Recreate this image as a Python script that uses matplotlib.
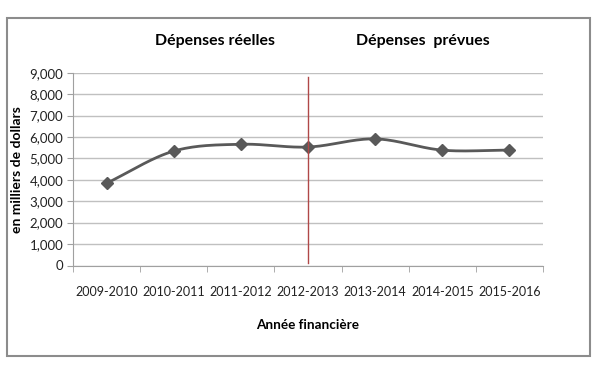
import numpy as np
import matplotlib.pyplot as plt
from matplotlib.patches import Rectangle

years = ['2009-2010', '2010-2011', '2011-2012', '2012-2013',
         '2013-2014', '2014-2015', '2015-2016']
depenses = [3840, 5340, 5660, 5530, 5910, 5385, 5390]
yticks = np.arange(0, 9001, 1000)
split_year = '2012-2013'
split_range = [100, 8800]

plt.rcParams['font.family'] = ['Lato', 'DejaVu Sans']

fig = plt.figure(figsize=(6, 3.66), dpi=100)
ax = fig.add_axes([73/600, 1-265.5/366, (543-73)/600, (265.5-72.7)/366])

x = np.arange(len(years))
y = np.array(depenses, dtype=float)

# courbe lissée type Excel (Catmull-Rom)
px = np.concatenate([[2*x[0]-x[1]], x, [2*x[-1]-x[-2]]]).astype(float)
py = np.concatenate([[2*y[0]-y[1]], y, [2*y[-1]-y[-2]]])
xs, ys = [], []
t = np.linspace(0, 1, 30)
for i in range(1, len(px)-2):
    for arr, out in ((px, xs), (py, ys)):
        p0, p1, p2, p3 = arr[i-1], arr[i], arr[i+1], arr[i+2]
        out.extend(0.5*((2*p1) + (-p0+p2)*t + (2*p0-5*p1+4*p2-p3)*t**2
                        + (-p0+3*p1-3*p2+p3)*t**3))
ax.plot(xs, ys, color='#595959', lw=2, zorder=3)
ax.plot(x, y, 'D', color='#595959', ms=6.5, zorder=4)

xi = years.index(split_year)
ax.plot([xi, xi], split_range, color='#b04848', lw=1, zorder=5)

ax.set_xlim(-0.5, len(years)-0.5)
ax.set_ylim(0, 9000)
ax.set_yticks(yticks)
ax.set_yticklabels([f'{v:,}' for v in yticks])
ax.set_xticks(x)
ax.set_xticklabels(years)
ax.set_xticks(np.arange(-0.5, len(years)), minor=True)
ax.tick_params(axis='x', which='major', length=0, pad=15, labelsize=9)
ax.tick_params(axis='x', which='minor', length=4, color='#a0a0a0')
ax.tick_params(axis='y', length=4, color='#a0a0a0', pad=3, labelsize=9.5)
ax.tick_params(labelcolor='#222222')
ax.grid(axis='y', color='#c0c0c0', lw=1)
ax.set_axisbelow(True)
for s in ['top', 'right']:
    ax.spines[s].set_visible(False)
for s in ['left', 'bottom']:
    ax.spines[s].set_color('#a0a0a0')

ax.set_ylabel('en milliers de dollars', fontsize=10, fontweight='bold', labelpad=5)
ax.set_xlabel('Année financière', fontsize=9.7, fontweight='bold', labelpad=15)

fig.text(215/600, 1-41/366, 'Dépenses réelles', ha='center', va='center',
         fontsize=11.4, fontweight='bold')
fig.text(423/600, 1-41/366, 'Dépenses  prévues', ha='center', va='center',
         fontsize=11.4, fontweight='bold')

fig.patches.append(Rectangle((7/600, 1-356/366), (590-7)/600, (356-18)/366,
                             transform=fig.transFigure, fill=False,
                             edgecolor='#8c8c8c', lw=1.5))

fig.savefig('out.png', dpi=100)
